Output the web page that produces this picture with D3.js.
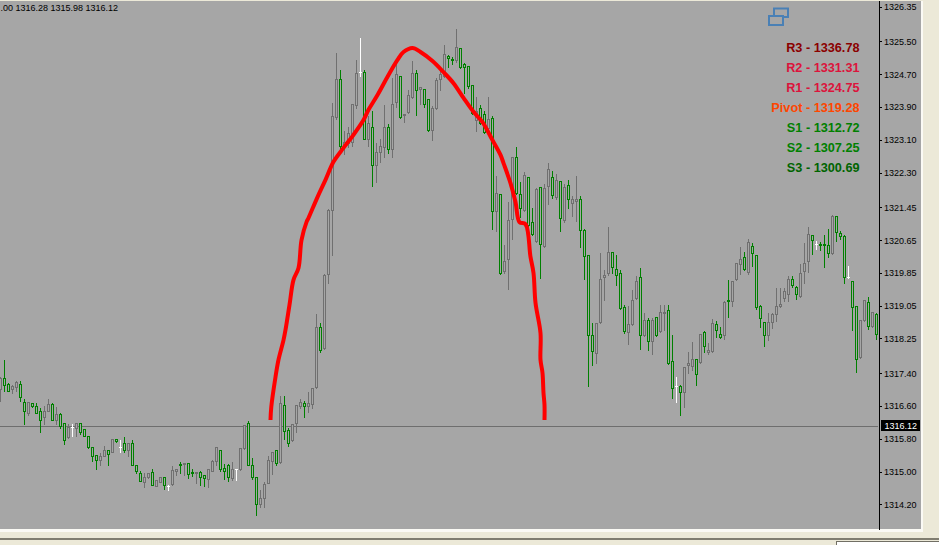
<!DOCTYPE html>
<html>
<head>
<meta charset="utf-8">
<style>
  html, body { margin: 0; padding: 0; background: #ece9d8; overflow: hidden; }
  svg { display: block; }
  text { font-family: "Liberation Sans", Arial, sans-serif; }
</style>
<script src="https://cdn.jsdelivr.net/npm/d3@7"></script>
</head>
<body>
<div id="chart"></div>
<script>
const highs = [
  1317.33,1317.75,1317.18,1317.15,1317.23,1317.23,1316.79,1316.71,1316.69,1316.70,
  1316.58,1316.62,1316.79,1316.70,1316.59,1316.45,1316.18,1316.18,1316.18,1316.18,
  1316.18,1316.03,1315.88,1315.59,1315.40,1315.49,1315.64,1315.55,1315.79,1315.79,
  1315.79,1315.88,1315.70,1315.79,1315.19,1315.03,1314.98,1314.98,1315.08,1314.80,
  1314.88,1314.89,1314.69,1315.15,1315.08,1315.26,1315.20,1315.20,1315.08,1315.01,
  1315.03,1314.94,1315.10,1315.31,1315.59,1315.55,1315.21,1315.20,1315.26,1315.06,
  1315.58,1316.16,1316.26,1315.36,1314.89,1314.58,1314.76,1315.40,1315.47,1315.55,
  1316.86,1316.87,1316.08,1316.18,1316.62,1316.80,1316.75,1316.97,1317.07,1318.87,
  1318.65,1319.85,1321.43,1324.02,1325.24,1324.83,1323.34,1323.44,1323.98,1325.07,
  1325.61,1324.83,1323.70,1323.83,1323.05,1323.14,1323.97,1323.51,1324.63,1324.97,
  1324.68,1323.75,1324.34,1325.05,1324.83,1324.41,1324.36,1324.09,1323.95,1324.63,
  1324.85,1325.44,1325.19,1325.14,1325.83,1325.34,1325.00,1324.90,1324.44,1324.17,
  1323.98,1323.83,1324.17,1323.70,1322.24,1321.78,1320.56,1321.61,1322.68,1322.95,
  1322.09,1322.34,1322.19,1321.46,1321.95,1321.95,1322.04,1322.56,1322.36,1322.29,
  1322.12,1322.04,1322.14,1321.75,1322.24,1321.75,1320.95,1320.29,1318.65,1318.63,
  1320.36,1319.95,1320.99,1320.37,1320.31,1319.95,1319.09,1319.07,1319.46,1319.80,
  1319.99,1318.90,1318.78,1318.78,1318.78,1319.09,1319.09,1319.09,1318.36,1317.34,
  1317.14,1317.56,1317.95,1318.19,1317.75,1318.36,1318.46,1318.17,1318.75,1318.70,
  1318.56,1319.19,1319.70,1319.65,1320.12,1320.51,1320.39,1320.70,1320.60,1320.29,
  1319.09,1318.65,1318.90,1318.90,1319.51,1319.51,1319.51,1319.80,1319.80,1319.56,
  1320.09,1320.60,1320.99,1320.80,1320.65,1320.63,1320.80,1320.95,1321.29,1321.24,
  1320.90,1320.80,1320.04,1319.65,1319.04,1318.73,1319.19,1319.29,1318.90,1318.90,
]
const lows = [
  1316.73,1316.97,1316.97,1316.93,1316.97,1316.72,1316.17,1316.39,1316.58,1316.43,
  1315.97,1316.16,1316.48,1316.26,1316.16,1316.07,1315.67,1315.83,1315.87,1315.87,
  1315.92,1315.87,1315.58,1315.27,1315.07,1315.16,1315.38,1315.16,1315.49,1315.73,
  1315.49,1315.49,1315.39,1315.16,1314.97,1314.77,1314.63,1314.84,1314.67,1314.65,
  1314.75,1314.58,1314.56,1314.68,1314.93,1314.97,1314.92,1314.85,1314.90,1314.72,
  1314.67,1314.66,1314.63,1315.01,1315.15,1315.02,1314.81,1314.77,1314.80,1314.80,
  1315.05,1315.56,1315.15,1314.82,1313.94,1314.14,1314.14,1314.72,1314.94,1315.16,
  1315.22,1315.80,1315.62,1315.75,1315.97,1316.55,1316.33,1316.46,1316.55,1317.04,
  1317.92,1317.99,1319.61,1320.29,1323.61,1322.85,1322.75,1322.92,1322.95,1323.87,
  1324.66,1323.12,1322.95,1321.97,1322.07,1322.56,1322.68,1322.78,1322.68,1323.90,
  1323.63,1323.53,1323.75,1324.12,1323.70,1323.98,1323.90,1323.31,1323.09,1323.85,
  1324.31,1324.63,1324.88,1324.95,1325.00,1324.85,1324.24,1324.36,1323.73,1323.31,
  1323.48,1323.26,1323.34,1320.92,1320.87,1319.82,1319.85,1319.46,1320.68,1321.78,
  1321.22,1321.36,1320.97,1320.78,1320.60,1319.73,1320.48,1321.53,1321.68,1321.65,
  1320.87,1321.09,1321.43,1321.24,1321.12,1320.48,1319.70,1317.09,1317.60,1317.65,
  1318.63,1319.19,1319.80,1319.85,1319.56,1318.97,1318.39,1318.12,1318.58,1319.21,
  1317.99,1318.31,1317.97,1317.87,1318.31,1318.41,1318.46,1317.63,1316.80,1316.70,
  1316.38,1316.58,1317.41,1317.48,1317.12,1317.65,1317.92,1317.87,1317.92,1318.29,
  1318.26,1318.24,1318.78,1319.04,1319.68,1319.82,1319.92,1319.82,1320.02,1318.97,
  1318.53,1318.07,1318.21,1318.51,1318.68,1319.02,1319.17,1319.17,1319.51,1319.21,
  1319.26,1319.61,1319.87,1320.31,1320.43,1320.41,1319.99,1320.24,1320.31,1320.63,
  1320.68,1319.61,1319.73,1318.46,1317.43,1317.78,1318.68,1318.48,1318.53,1318.24,
]
const opens = [
  1317.01,1317.28,1317.13,1317.02,1317.07,1317.13,1316.69,1316.44,1316.68,1316.59,
  1316.49,1316.34,1316.49,1316.64,1316.27,1316.40,1316.18,1315.84,1316.08,1316.07,
  1316.18,1316.03,1315.88,1315.59,1315.40,1315.28,1315.39,1315.54,1315.49,1315.79,
  1315.59,1315.69,1315.54,1315.69,1315.17,1314.97,1314.75,1314.87,1314.98,1314.66,
  1314.75,1314.87,1314.66,1314.69,1315.01,1315.18,1315.18,1315.20,1314.98,1314.97,
  1314.98,1314.91,1314.81,1315.02,1315.27,1315.54,1315.08,1315.17,1314.84,1315.06,
  1315.06,1315.57,1316.18,1315.15,1314.88,1314.22,1314.35,1314.73,1315.27,1315.53,
  1315.23,1316.62,1316.01,1315.78,1316.18,1316.60,1316.68,1316.60,1316.65,1317.07,
  1318.53,1318.02,1319.82,1321.39,1323.66,1324.58,1322.95,1323.02,1323.05,1323.95,
  1324.75,1324.75,1323.12,1323.41,1322.48,1322.80,1322.92,1323.41,1322.87,1324.02,
  1324.66,1323.70,1323.78,1324.14,1324.73,1324.34,1324.34,1324.09,1323.34,1323.87,
  1324.58,1324.66,1325.14,1325.07,1325.05,1325.34,1324.95,1324.90,1324.44,1323.58,
  1323.87,1323.73,1323.39,1323.63,1321.36,1321.78,1319.90,1320.19,1321.17,1322.68,
  1321.78,1321.39,1322.19,1321.09,1320.63,1321.95,1320.51,1321.97,1322.19,1321.70,
  1322.09,1321.14,1321.99,1321.56,1321.61,1321.65,1320.90,1320.29,1318.34,1317.90,
  1318.65,1319.75,1319.85,1320.37,1319.95,1319.85,1319.02,1318.41,1318.60,1319.24,
  1319.75,1318.34,1318.70,1318.19,1318.78,1318.43,1318.87,1318.95,1317.70,1317.09,
  1317.09,1316.95,1317.60,1317.58,1317.75,1317.68,1318.41,1317.92,1317.95,1318.60,
  1318.36,1318.34,1319.19,1319.17,1319.70,1320.07,1320.24,1319.87,1320.51,1320.29,
  1319.04,1318.65,1318.34,1318.65,1318.85,1319.04,1319.24,1319.34,1319.70,1319.51,
  1319.29,1319.90,1320.14,1320.78,1320.56,1320.56,1320.56,1320.53,1320.34,1321.24,
  1320.82,1320.75,1319.75,1319.65,1319.04,1317.80,1318.70,1319.14,1318.56,1318.85,
]
const closes = [
  1317.28,1317.12,1316.98,1317.08,1317.18,1316.83,1316.49,1316.69,1316.59,1316.44,
  1316.27,1316.49,1316.64,1316.27,1316.41,1316.11,1315.78,1316.08,1316.08,1316.18,
  1315.97,1315.88,1315.59,1315.39,1315.28,1315.39,1315.54,1315.44,1315.79,1315.74,
  1315.59,1315.54,1315.69,1315.17,1315.02,1314.78,1314.88,1314.97,1314.68,1314.79,
  1314.86,1314.67,1314.66,1315.05,1315.07,1315.15,1315.20,1314.95,1314.96,1314.99,
  1314.88,1314.84,1315.06,1315.26,1315.59,1315.06,1315.02,1314.88,1315.06,1315.06,
  1315.57,1316.15,1315.17,1314.86,1314.22,1314.36,1314.71,1315.28,1315.47,1315.22,
  1316.67,1316.00,1315.71,1316.17,1316.62,1316.70,1316.60,1316.68,1317.04,1318.53,
  1317.97,1319.80,1321.39,1323.68,1324.58,1322.95,1323.05,1323.26,1323.98,1324.73,
  1324.75,1323.12,1323.51,1322.48,1322.80,1322.95,1323.41,1322.87,1323.97,1324.70,
  1323.66,1323.73,1324.19,1324.73,1324.31,1324.39,1323.98,1323.34,1323.87,1324.56,
  1324.70,1325.19,1325.09,1325.05,1325.36,1324.88,1324.88,1324.41,1323.75,1323.80,
  1323.51,1323.29,1323.61,1321.36,1321.80,1319.85,1320.14,1321.14,1322.68,1321.80,
  1321.43,1322.24,1321.02,1320.80,1321.90,1320.56,1321.92,1322.39,1321.75,1322.12,
  1321.19,1321.95,1321.65,1321.65,1321.65,1320.90,1320.26,1318.34,1317.95,1318.63,
  1319.70,1319.80,1320.37,1319.99,1319.80,1319.00,1318.43,1318.60,1319.19,1319.65,
  1318.34,1318.70,1318.19,1318.70,1318.34,1318.90,1318.90,1317.65,1317.04,1317.09,
  1316.95,1317.56,1317.65,1317.75,1317.38,1318.36,1318.07,1317.97,1318.63,1318.46,
  1318.29,1319.14,1319.17,1319.65,1320.09,1320.19,1319.95,1320.60,1320.34,1319.02,
  1318.75,1318.34,1318.65,1318.85,1319.04,1319.09,1319.41,1319.70,1319.56,1319.34,
  1319.85,1320.09,1320.80,1320.65,1320.56,1320.53,1320.53,1320.34,1321.24,1320.85,
  1320.75,1319.75,1319.75,1319.02,1317.75,1318.70,1319.19,1318.56,1318.90,1318.36,
]

// hand drawn red arc, as fractional bar number and price
const sketchBars = [
  67.5,67.7,68.75,69.5,70.75,71.25,72.25,73.25,74.5,75.25,76.5,77,79.25,81.25,83.25,85.75,
  88.25,90.75,92,94.25,97,99.25,100.75,103,105,108,110.75,113.25,115.75,118.25,120.5,123,
  125,125.75,127.5,128.75,129.75,131.25,132.5,133.25,133.75,135,135,135.5,135.75,136,136,
]
const sketchPrices = [
  1316.26,1316.58,1317.31,1317.73,1318.21,1318.46,1319.07,1319.68,1319.97,1320.65,1321.09,1321.19,
  1321.70,1322.12,1322.56,1322.90,1323.22,1323.58,1323.83,1324.19,1324.68,1325.05,1325.24,1325.34,
  1325.24,1325.02,1324.75,1324.48,1324.12,1323.78,1323.53,1323.09,1322.73,1322.53,1322.04,1321.58,
  1321.09,1321.04,1320.24,1319.85,1319.12,1318.38,1317.73,1317.41,1316.92,1316.63,1316.26,
]

const priceTicks = [
  1326.35,1325.50,1324.70,1323.90,1323.10,1322.30,1321.45,1320.65,
  1319.85,1319.05,1318.25,1317.40,1316.60,1315.80,1315.00,1314.20,
]
const lastPrice = 1316.12
const headerText = ".00 1316.28 1315.98 1316.12"

const pivotLabels = ["R3", "R2", "R1", "Pivot", "S1", "S2", "S3"]
const pivotValues = [1336.78, 1331.31, 1324.75, 1319.28, 1312.72, 1307.25, 1300.69]
const pivotColors = ["#8b0000", "#dc143c", "#dc143c", "#ff4500", "#008000", "#008000", "#006400"]

const width = 939
const height = 545
const plotWidth = 878
const plotHeight = 529
const plotBg = "#a6a6a6"
const upColor = "#707070"
const downColor = "#008000"
const flatColor = "#ffffff"

const svg = d3.select("#chart")
  .append("svg")
  .attr("width", width)
  .attr("height", height)

// window chrome around the plot
svg.append("rect").attr("y", 0).attr("width", width).attr("height", height).attr("fill", "#ece9d8")
svg.append("rect").attr("y", 1).attr("width", 923).attr("height", 531).attr("fill", "#fbfaf5")
svg.append("rect").attr("y", 1).attr("width", 921).attr("height", plotHeight - 1).attr("fill", plotBg)
svg.append("rect").attr("y", 538).attr("width", width).attr("height", 2).attr("fill", "#807d70")
svg.append("rect").attr("x", 836.5).attr("y", 541.5).attr("width", 110).attr("height", 12)
  .attr("fill", "#ffffff").attr("stroke", "#716f64")

const x = d3.scaleLinear().domain([0, 219]).range([0.5, 876.5])
const y = d3.scaleLinear().domain([1313.6, 1326.51]).range([plotHeight, 0])
const py = (v) => Math.round(y(v)) + 0.5

// current price line
svg.append("line")
  .attr("x1", 0).attr("x2", plotWidth)
  .attr("y1", py(lastPrice) - 0.5).attr("y2", py(lastPrice) - 0.5)
  .attr("stroke", "#6e6e6e")
  .attr("shape-rendering", "crispEdges")

const candles = d3.range(highs.length).map((i) => ({
  i, high: highs[i], low: lows[i], open: opens[i], close: closes[i],
}))
const candleColor = (d) => d.close > d.open ? upColor : d.close < d.open ? downColor : flatColor

const candle = svg.append("g")
  .attr("shape-rendering", "crispEdges")
  .selectAll("g")
  .data(candles)
  .join("g")

candle.append("line")
  .attr("x1", (d) => x(d.i))
  .attr("x2", (d) => x(d.i))
  .attr("y1", (d) => py(d.high))
  .attr("y2", (d) => py(d.low) + 0.5)
  .attr("stroke", candleColor)

candle.filter((d) => d.open !== d.close)
  .append("rect")
  .attr("x", (d) => x(d.i) - 1)
  .attr("y", (d) => py(Math.max(d.open, d.close)))
  .attr("width", 2)
  .attr("height", (d) => Math.max(1, py(Math.min(d.open, d.close)) - py(Math.max(d.open, d.close))))
  .attr("fill", plotBg)
  .attr("stroke", candleColor)

candle.filter((d) => d.open === d.close)
  .append("line")
  .attr("x1", (d) => x(d.i) - 1.5)
  .attr("x2", (d) => x(d.i) + 1.5)
  .attr("y1", (d) => py(d.open))
  .attr("y2", (d) => py(d.open))
  .attr("stroke", flatColor)

// red arc
const sketchLine = d3.line()
  .x((d) => x(d))
  .y((d, i) => y(sketchPrices[i]))
  .curve(d3.curveCatmullRom.alpha(0.5))

svg.append("path")
  .datum(sketchBars)
  .attr("fill", "none")
  .attr("stroke", "#ff0000")
  .attr("stroke-width", 4)
  .attr("d", sketchLine)

// price axis
const axis = svg.append("g")
  .attr("transform", `translate(${plotWidth + 0.5}, 0)`)
  .call(d3.axisRight(y)
    .tickValues(priceTicks)
    .tickFormat(d3.format(".2f"))
    .tickSizeInner(3)
    .tickSizeOuter(0)
    .tickPadding(2.5))

axis.select(".domain").attr("stroke", "#000").attr("shape-rendering", "crispEdges")
axis.selectAll("line").attr("stroke", "#000").attr("shape-rendering", "crispEdges")
axis.selectAll("text")
  .attr("font-family", '"Liberation Sans", Arial, sans-serif')
  .attr("font-size", 9)
  .attr("fill", "#000")

// last price flag
svg.append("rect")
  .attr("x", 881).attr("y", py(lastPrice) - 6.5)
  .attr("width", 39).attr("height", 11)
  .attr("fill", "#000")

svg.append("text")
  .attr("x", 884.5)
  .attr("y", py(lastPrice) + 2.5)
  .attr("font-size", 9)
  .attr("fill", "#fff")
  .text(d3.format(".2f")(lastPrice))

// ohlc readout
svg.append("text")
  .attr("x", 0.5)
  .attr("y", 11)
  .attr("font-size", 9)
  .attr("fill", "#000")
  .text(headerText)

// pivot levels
const pivotY = d3.scalePoint().domain(pivotLabels).range([52, 172])

svg.append("g")
  .selectAll("text")
  .data(pivotLabels)
  .join("text")
  .attr("x", 859.5)
  .attr("y", (d) => pivotY(d))
  .attr("text-anchor", "end")
  .attr("font-size", 12.7)
  .attr("font-weight", "bold")
  .attr("fill", (d, i) => pivotColors[i])
  .text((d, i) => `${d} - ${d3.format(".2f")(pivotValues[i])}`)

// window icon
const icon = svg.append("g")
  .attr("fill", "none")
  .attr("stroke", "#4a80b5")
  .attr("stroke-width", 2)

icon.append("path").attr("d", "M774 15V8.5H788V17H783")
icon.append("rect").attr("x", 769).attr("y", 16).attr("width", 14).attr("height", 9)
</script>
</body>
</html>
